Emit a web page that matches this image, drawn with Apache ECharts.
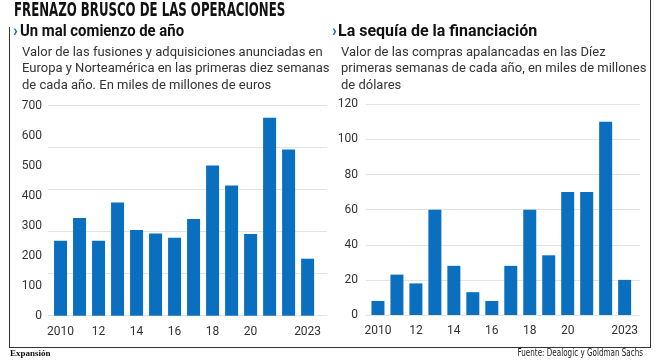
<!DOCTYPE html>
<html>
<head>
<meta charset="utf-8">
<script src="https://cdn.jsdelivr.net/npm/echarts@6/dist/echarts.min.js"></script>
<style>html,body{margin:0;padding:0;background:#fff;}#c{width:660px;height:360px;}</style>
</head>
<body>
<div id="c"></div>
<script>
const years = [2010,2011,2012,2013,2014,2015,2016,2017,2018,2019,2020,2021,2022,2023];
const fusiones = [250,326,250,377,286,274,260,322,501,434,272,660,554,190];
const apalancadas = [8,23,18,60,28,13,8,28,60,34,70,70,110,20];
const xLabelYears = [2010,2012,2014,2016,2018,2020,2023];

const blue = '#0b6fc0';
const chart = echarts.init(document.getElementById('c'));
const fmtYear = v => (v === 2010 || v === 2023) ? String(v) : String(v).slice(2);
const sans = 'Roboto, "Noto Sans", sans-serif';
const cond = '"DejaVu Sans Condensed", "DejaVu Sans", sans-serif';

function xAxis(gridIndex, min, max) {
  return {
    type: 'value', gridIndex, min, max,
    axisLine: {show: false}, axisTick: {show: false}, splitLine: {show: false},
    axisLabel: {customValues: xLabelYears, formatter: fmtYear, color: '#333', fontSize: 12, fontFamily: sans, margin: 10}
  };
}
const pair = arr => years.map((y, i) => [y, arr[i]]);

chart.setOption({
  animation: false,
  grid: [
    {left: 48, top: 105.7, width: 279, bottom: 44.3},
    {left: 366, top: 104.3, width: 274, bottom: 45}
  ],
  xAxis: [xAxis(0, 2009.34, 2024.02), xAxis(1, 2009.37, 2023.81)],
  yAxis: [
    {type: 'value', gridIndex: 0, min: 0, max: 700, interval: 100,
     axisLine: {show: false}, axisTick: {show: false}, splitLine: {show: false},
     axisLabel: {color: '#333', fontSize: 12, fontFamily: sans, margin: 6}},
    {type: 'value', gridIndex: 0, min: 0, max: 700, interval: 140, position: 'left',
     axisLine: {show: false}, axisTick: {show: false}, axisLabel: {show: false},
     splitLine: {show: true, lineStyle: {color: '#e3e3e3', width: 1}}},
    {type: 'value', gridIndex: 1, min: 0, max: 120, interval: 20,
     axisLine: {show: false}, axisTick: {show: false},
     splitLine: {show: true, lineStyle: {color: '#e3e3e3', width: 1}},
     axisLabel: {color: '#333', fontSize: 12, fontFamily: sans, margin: 8}}
  ],
  series: [
    {type: 'bar', xAxisIndex: 0, yAxisIndex: 0, data: pair(fusiones), barWidth: 13, itemStyle: {color: blue}},
    {type: 'bar', xAxisIndex: 1, yAxisIndex: 2, data: pair(apalancadas), barWidth: 13, itemStyle: {color: blue}}
  ],
  graphic: [
    {type: 'line', shape: {x1: 9.5, y1: 27, x2: 9.5, y2: 348}, style: {stroke: '#333', lineWidth: 1}},
    {type: 'line', shape: {x1: 650.5, y1: 0, x2: 650.5, y2: 348}, style: {stroke: '#333', lineWidth: 1}},
    {type: 'line', shape: {x1: 9, y1: 347.5, x2: 651, y2: 347.5}, style: {stroke: '#333', lineWidth: 1}},
    {type: 'text', x: 14, y: 1, scaleX: 0.655, style: {text: 'FRENAZO BRUSCO DE LAS OPERACIONES', fill: '#111', font: 'bold 20px ' + cond, verticalAlign: 'top'}},
    {type: 'text', x: 13, y: 24, style: {text: '›', fill: blue, font: 'bold 16px ' + sans, verticalAlign: 'top'}},
    {type: 'text', x: 20, y: 24, scaleX: 0.93, style: {text: 'Un mal comienzo de año', fill: '#111', font: 'bold 16px ' + sans, verticalAlign: 'top'}},
    {type: 'text', x: 22, y: 44, style: {text: 'Valor de las fusiones y adquisiciones anunciadas en\nEuropa y Norteamérica en las primeras diez semanas\nde cada año. En miles de millones de euros', fill: '#333', lineHeight: 16.5, font: '13px ' + sans, verticalAlign: 'top'}},
    {type: 'text', x: 332, y: 24, style: {text: '›', fill: blue, font: 'bold 16px ' + sans, verticalAlign: 'top'}},
    {type: 'text', x: 338, y: 24, style: {text: 'La sequía de la financiación', fill: '#111', font: 'bold 16px ' + sans, verticalAlign: 'top'}},
    {type: 'text', x: 341, y: 44, style: {text: 'Valor de las compras apalancadas en las Díez\nprimeras semanas de cada año, en miles de millones\nde dólares', fill: '#333', lineHeight: 16.5, font: '13px ' + sans, verticalAlign: 'top'}},
    {type: 'text', x: 10, y: 349, style: {text: 'Expansión', fill: '#111', font: 'bold 9px "Liberation Serif", serif', verticalAlign: 'top'}},
    {type: 'text', x: 643, y: 348, scaleX: 0.8, style: {text: 'Fuente: Dealogic y Goldman Sachs', fill: '#222', font: '10px ' + cond, align: 'right', verticalAlign: 'top'}}
  ]
});
</script>
</body>
</html>
